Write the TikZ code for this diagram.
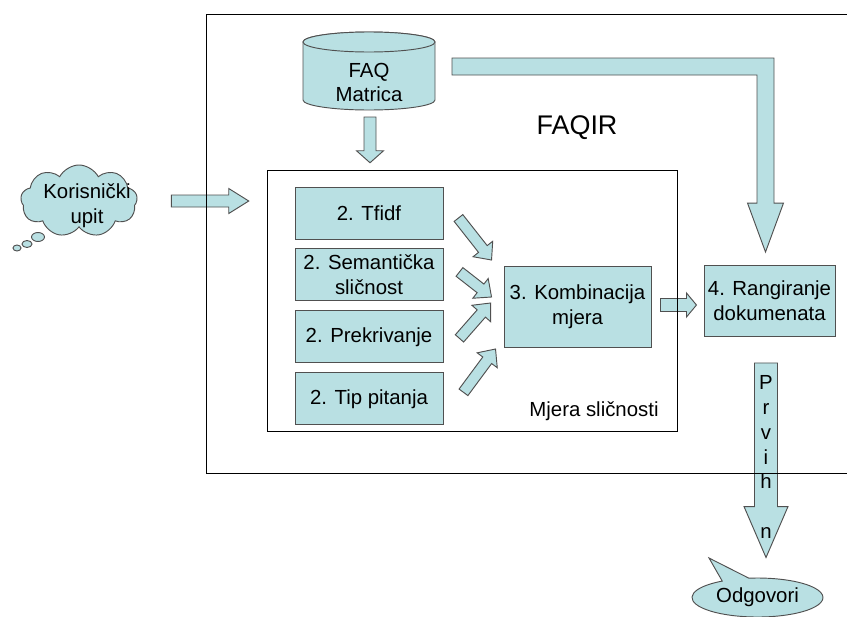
\documentclass[tikz,border=0pt]{standalone}
\usepackage{fontspec}
\setmainfont{Liberation Sans}
\usepackage{tikz}
\usetikzlibrary{shapes, shapes.symbols, shapes.callouts, calc, positioning}
\definecolor{pale}{HTML}{B9E0E3}
\definecolor{edge}{HTML}{505050}

% block arrow: tail, tip, half shaft, half head, head length (px)
\newcommand{\fatarrow}[5]{%
  \pgfmathsetmacro{\fsw}{#3*0.03}%
  \pgfmathsetmacro{\fhw}{#4*0.03}%
  \pgfmathsetmacro{\fhl}{#5*0.03}%
  \coordinate (ft) at (#1);
  \coordinate (fh) at (#2);
  \coordinate (fb) at ($(fh)!\fhl cm!(ft)$);
  \draw[fat] ($(ft)!\fsw cm!90:(fh)$) -- ($(fb)!\fsw cm!90:(fh)$) -- ($(fb)!\fhw cm!90:(fh)$) -- (fh)
    -- ($(fb)!\fhw cm!-90:(fh)$) -- ($(fb)!\fsw cm!-90:(fh)$) -- ($(ft)!\fsw cm!-90:(fh)$) -- cycle;
}

\begin{document}
\begin{tikzpicture}[x=0.03cm, y=-0.03cm,
    txt/.style={font=\fontsize{17.4}{21.3}\selectfont, align=center, inner sep=0pt},
    box/.style={txt, draw=edge, fill=pale, line width=0.8pt, minimum width=4.44cm, minimum height=1.56cm},
    fat/.style={draw=edge, fill=pale, line width=0.8pt},
    frame/.style={draw=black, line width=0.6pt},
    cloudy/.style={cloud, cloud puffs=9, cloud puff arc=125, cloud ignores aspect, draw=edge, fill=pale, line width=0.8pt, minimum width=3.5cm, minimum height=2.16cm, inner sep=0pt}]
\useasboundingbox (0,0) rectangle (847,616);

% measures
\node[box] (tfidf) at (369,213) {2. Tfidf};
\node[box, below=0.27cm of tfidf] (sem) {2. Semantička\\sličnost};
\node[box, below=0.27cm of sem] (prek) {2. Prekrivanje};
\node[box, below=0.27cm of prek] (pitanje) {2. Tip pitanja};
\node[box, minimum width=4.41cm, minimum height=2.43cm] (komb) at (577.5,306.5) {3. Kombinacija\\mjera};
\node[box, minimum width=3.93cm, minimum height=2.13cm] (rang) at (769.5,301) {4. Rangiranje\\dokumenata};
\node[minimum width=12.27cm, minimum height=7.8cm, inner sep=0pt] (mjera) at (472.5,301) {};
\node[txt] (mjeralbl) at (594,411) {Mjera sličnosti};

% FAQ matrix
\coordinate (faqc) at (369,82.5);
\draw[fat] ($(faqc)+(-66,-40.5)$) -- ($(faqc)+(-66,17.5)$) arc[start angle=180, end angle=0, x radius=66, y radius=10]
  -- ($(faqc)+(66,-40.5)$) arc[start angle=0, end angle=-180, x radius=66, y radius=10] -- cycle;
\draw[fat] ($(faqc)+(0,-40.5)$) ellipse [x radius=66, y radius=10];
\node[txt] (faq) at (faqc) {FAQ\\Matrica};

% user query
\node[cloudy] (cloud) at (79,201) {};
\draw[fat] ($(cloud.center)+(-41,36)$) ellipse [x radius=6.5, y radius=4.5];
\draw[fat] ($(cloud.center)+(-52,43)$) ellipse [x radius=5, y radius=3.5];
\draw[fat] ($(cloud.center)+(-62,47)$) ellipse [x radius=4, y radius=3];
\node[txt] (upit) at ($(cloud.center)+(8,5)$) {Korisnički\\upit};

% answers
\coordinate (odgptr) at (709,558);
\node[txt, ellipse callout, draw=edge, fill=pale, line width=0.8pt, minimum width=3.93cm, minimum height=1.17cm,
  callout absolute pointer={(odgptr)}, callout pointer arc=25] (odg) at (757.5,597.5) {Odgovori};

% arrows
\fatarrow{$(cloud.east)+(34,0)$}{$(cloud.east -| mjera.west)+(-19,0)$}{6}{12.5}{20}
\fatarrow{$(faqc)+(1,34.5)$}{$(faqc |- mjera.north)+(1,-8)$}{6}{13.5}{12}
\fatarrow{$(tfidf.east)+(15,5)$}{$(komb.west)+(-12,-46.5)$}{5.5}{12.5}{14}
\fatarrow{$(sem.east)+(16,-3)$}{$(komb.west)+(-12,-9.5)$}{5.5}{12.5}{14}
\fatarrow{$(prek.east)+(16,1.5)$}{$(komb.west)+(-13,-3.5)$}{5.5}{12.5}{14}
\fatarrow{$(pitanje.east)+(20,-6.5)$}{$(komb.west)+(-8,42.5)$}{5.5}{12.5}{14}
\fatarrow{$(komb.east)+(9,-1.5)$}{$(komb.east)+(45,-1.5)$}{6.5}{12}{10}
\fatarrow{$(rang.south)+(-3.5,26)$}{$(odg.north)+(8.5,-20)$}{11.5}{22}{51}

% matrix to ranking
\coordinate (bt) at ($(faqc)+(83,-16)$);
\coordinate (bc) at ($(rang.north |- bt)+(-4,0)$);
\coordinate (bp) at ($(rang.north)+(-4,-13)$);
\draw[fat] ($(bt)+(0,-8.5)$) -- ($(bc)+(8.5,-8.5)$) -- ($(bp)+(8.5,-49)$) -- ($(bp)+(18,-49)$) -- (bp)
  -- ($(bp)+(-18,-49)$) -- ($(bp)+(-8.5,-49)$) -- ($(bc)+(-8.5,8.5)$) -- ($(bt)+(0,8.5)$) -- cycle;

% frames
\draw[frame] (847,14) -| (206,473) -- (847,473);
\draw[frame] (mjera.north west) rectangle (mjera.south east);
\node[txt, font=\fontsize{23}{27}\selectfont] (faqir) at (577,128) {FAQIR};
\node[txt] (prvih) at (766,457) {P\\r\\v\\i\\h\\\strut\\n};

\end{tikzpicture}
\end{document}
